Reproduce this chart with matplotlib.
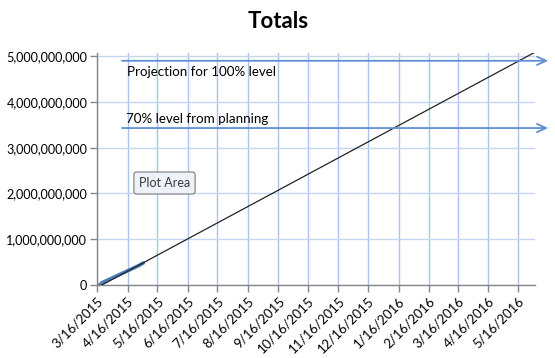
import matplotlib
matplotlib.use("Agg")
import matplotlib.pyplot as plt
import matplotlib.ticker as mticker
import matplotlib.transforms as mtransforms
from matplotlib.patches import FancyArrowPatch
import datetime as dt

# ---- data ----
actual_dates = ["2015-03-16", "2015-03-19", "2015-03-21", "2015-03-24", "2015-03-28",
                "2015-04-02", "2015-04-07", "2015-04-12", "2015-04-17", "2015-04-22",
                "2015-04-27", "2015-05-02"]
actual_values = [0, 0, 0.05e9, 0.08e9, 0.12e9, 0.17e9, 0.22e9, 0.27e9, 0.32e9,
                 0.37e9, 0.42e9, 0.48e9]
trend_dates = ["2015-03-21", "2016-06-01"]
trend_values = [0, 5.07e9]
level_100 = 4.9e9
level_70 = 3.43e9
tick_labels = ["3/16/2015", "4/16/2015", "5/16/2015", "6/16/2015", "7/16/2015",
               "8/16/2015", "9/16/2015", "10/16/2015", "11/16/2015", "12/16/2015",
               "1/16/2016", "2/16/2016", "3/16/2016", "4/16/2016", "5/16/2016"]
y_ticks = [0, 1e9, 2e9, 3e9, 4e9, 5e9]

font = "Lato"
plt.rcParams['font.family'] = [font, 'DejaVu Sans']

fig = plt.figure(figsize=(5.55, 3.58), dpi=100)
W, H = 555, 358
left, right, bottom, top = 97, 535, 285, 53
ax = fig.add_axes([left / W, (H - bottom) / H, (right - left) / W, (bottom - top) / H])

to_d = lambda s: dt.datetime.strptime(s, "%Y-%m-%d")
tick_dates = [dt.datetime.strptime(t, "%m/%d/%Y") for t in tick_labels]

ax.set_xlim(to_d("2015-03-16"), to_d("2016-06-02") + dt.timedelta(hours=12))
ax.set_ylim(0, 5.07e9)

ax.set_xticks(tick_dates)
ax.set_xticklabels(tick_labels, rotation=45, ha='right', va='top',
                   rotation_mode='anchor', fontsize=9.5)
offset = mtransforms.ScaledTranslation(4 / 100, -4 / 100, fig.dpi_scale_trans)
for lab in ax.get_xticklabels():
    lab.set_transform(lab.get_transform() + offset)
ax.set_yticks(y_ticks)
ax.yaxis.set_major_formatter(mticker.FuncFormatter(lambda v, p: f"{int(v):,}"))
for lab in ax.get_yticklabels():
    lab.set_fontsize(9.1)

ax.grid(axis='x', color='#adc3ec', linewidth=1.0)
ax.grid(axis='y', color='#c6d6f2', linewidth=1.0)
ax.set_axisbelow(True)
for s in ['top', 'right']:
    ax.spines[s].set_visible(False)
for s in ['left', 'bottom']:
    ax.spines[s].set_color('#868686')
    ax.spines[s].set_linewidth(1.0)
ax.tick_params(axis='both', colors='#868686', labelcolor='black', length=5, width=1, pad=2)

ax.plot([to_d(d) for d in trend_dates], trend_values, color='#222222', linewidth=0.9, zorder=3)
ax.plot([to_d(d) for d in actual_dates], actual_values, color='#4a7ebb', linewidth=2.6,
        solid_capstyle='round', zorder=2)

blend = ax.get_yaxis_transform()
for lvl in (level_100, level_70):
    arr = FancyArrowPatch((0.057, lvl), (1.03, lvl), transform=blend,
                          arrowstyle='->,head_length=0.65,head_width=0.3',
                          mutation_scale=10, color='#5f8fd3', lw=1.3,
                          shrinkA=0, shrinkB=0, clip_on=False, zorder=4)
    ax.add_patch(arr)

ax.annotate("Projection for 100% level", xy=(0.068, level_100), xycoords=blend,
            xytext=(0, -11), textcoords='offset pixels', ha='left', va='center', fontsize=9.6)
ax.annotate("70% level from planning", xy=(0.066, level_70), xycoords=blend,
            xytext=(0, 9), textcoords='offset pixels', ha='left', va='center', fontsize=9.6)

fig.text(278 / W, 1 - 21 / H, "Totals", ha='center', va='center', fontsize=16,
         fontweight='bold')

fig.text(164.5 / W, 1 - 183 / H, "Plot Area", ha='center', va='center', fontsize=9,
         color='#3a3a3a',
         bbox=dict(boxstyle='round,pad=0.4,rounding_size=0.2', fc='#eef2f9', ec='#7a7a7a', lw=0.8))

fig.savefig("out.png", dpi=100)
